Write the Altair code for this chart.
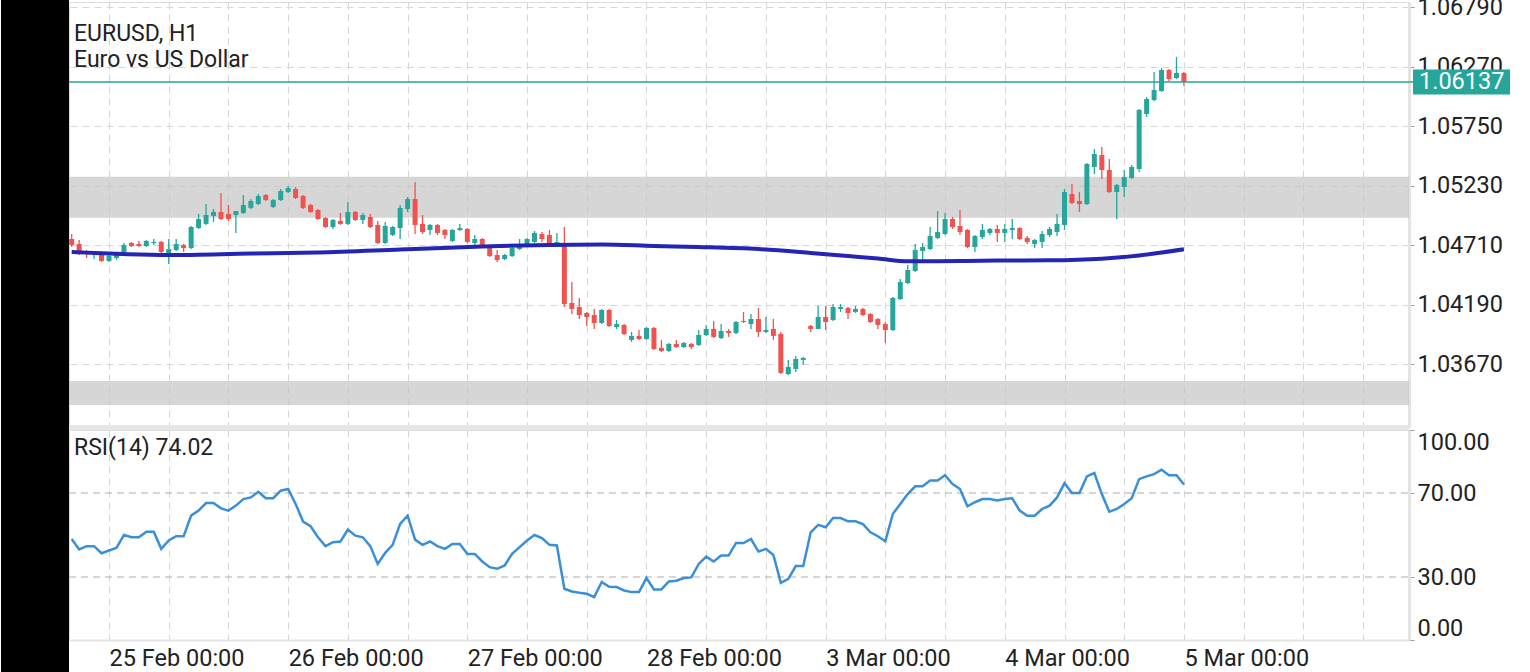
import altair as alt
import pandas as pd

# ---------------- data ----------------
opens = [1.04764, 1.04720, 1.04650, 1.04624, 1.04624, 1.04572, 1.04598, 1.04650, 1.04729, 1.04720,
         1.04703, 1.04729, 1.04738, 1.04633, 1.04668, 1.04712, 1.04685, 1.04860, 1.04896, 1.04966,
         1.05001, 1.04983, 1.04974, 1.04992, 1.05036, 1.05070, 1.05149, 1.05044, 1.05105, 1.05175,
         1.05201, 1.05140, 1.05062, 1.05018, 1.04948, 1.04869, 1.04922, 1.04896, 1.05001, 1.04931,
         1.04957, 1.04887, 1.04729, 1.04799, 1.04860, 1.05027, 1.05114, 1.04896, 1.04843, 1.04887,
         1.04843, 1.04747, 1.04843, 1.04852, 1.04729, 1.04764, 1.04685, 1.04624, 1.04589, 1.04615,
         1.04676, 1.04712, 1.04738, 1.04808, 1.04799, 1.04712, 1.04720, 1.04204, 1.04169, 1.04117,
         1.04099, 1.04029, 1.04143, 1.03994, 1.04012, 1.03881, 1.03916, 1.03889, 1.03986, 1.03811,
         1.03784, 1.03846, 1.03819, 1.03846, 1.03837, 1.03924, 1.03977, 1.03898, 1.03959, 1.03942,
         1.04047, 1.04020, 1.04064, 1.03951, 1.03977, 1.03933, 1.03583, 1.03627, 1.03706, 1.04003,
         1.03977, 1.04082, 1.04055, 1.04152, 1.04160, 1.04126, 1.04152, 1.04108, 1.04064, 1.04020,
         1.03968, 1.04239, 1.04379, 1.04484, 1.04659, 1.04676, 1.04773, 1.04808, 1.04939, 1.04878,
         1.04843, 1.04694, 1.04782, 1.04817, 1.04852, 1.04817, 1.04843, 1.04860, 1.04773, 1.04720,
         1.04738, 1.04799, 1.04825, 1.04887, 1.05158, 1.05097, 1.05070, 1.05394, 1.05499, 1.05368,
         1.05175, 1.05219, 1.05298, 1.05377, 1.05858, 1.05980, 1.06059, 1.06243, 1.06173, 1.06217]
highs = [1.04808, 1.04755, 1.04668, 1.04659, 1.04633, 1.04624, 1.04650, 1.04729, 1.04738, 1.04747,
         1.04755, 1.04764, 1.04747, 1.04764, 1.04764, 1.04720, 1.04878, 1.04983, 1.05070, 1.05027,
         1.05167, 1.05062, 1.05009, 1.05149, 1.05114, 1.05158, 1.05158, 1.05114, 1.05201, 1.05228,
         1.05219, 1.05149, 1.05070, 1.05027, 1.04957, 1.04939, 1.04992, 1.05088, 1.05009, 1.04992,
         1.04983, 1.04922, 1.04913, 1.04878, 1.05062, 1.05132, 1.05263, 1.04974, 1.04896, 1.04896,
         1.04852, 1.04852, 1.04896, 1.04860, 1.04799, 1.04773, 1.04694, 1.04668, 1.04633, 1.04694,
         1.04764, 1.04773, 1.04834, 1.04825, 1.04843, 1.04817, 1.04869, 1.04388, 1.04248, 1.04126,
         1.04152, 1.04152, 1.04152, 1.04055, 1.04020, 1.03951, 1.03968, 1.03994, 1.03994, 1.03881,
         1.03854, 1.03881, 1.03863, 1.03854, 1.03968, 1.04012, 1.04047, 1.04020, 1.03977, 1.04047,
         1.04126, 1.04108, 1.04160, 1.04082, 1.04064, 1.03951, 1.03706, 1.03741, 1.03732, 1.04012,
         1.04178, 1.04178, 1.04195, 1.04195, 1.04169, 1.04178, 1.04160, 1.04117, 1.04073, 1.04038,
         1.04257, 1.04414, 1.04537, 1.04720, 1.04729, 1.04869, 1.05009, 1.04992, 1.04957, 1.05018,
         1.04852, 1.04799, 1.04896, 1.04860, 1.04887, 1.04896, 1.04939, 1.04869, 1.04790, 1.04764,
         1.04834, 1.04869, 1.04983, 1.05201, 1.05245, 1.05175, 1.05429, 1.05552, 1.05569, 1.05464,
         1.05245, 1.05368, 1.05412, 1.05902, 1.06007, 1.06226, 1.06261, 1.06252, 1.06357, 1.06226]
lows = [1.04694, 1.04624, 1.04598, 1.04589, 1.04563, 1.04563, 1.04580, 1.04633, 1.04694, 1.04694,
        1.04694, 1.04712, 1.04642, 1.04545, 1.04659, 1.04650, 1.04676, 1.04852, 1.04887, 1.04913,
        1.04931, 1.04922, 1.04817, 1.04983, 1.05027, 1.05062, 1.05097, 1.05036, 1.05097, 1.05167,
        1.05114, 1.05027, 1.04992, 1.04931, 1.04860, 1.04852, 1.04887, 1.04887, 1.04922, 1.04896,
        1.04860, 1.04720, 1.04720, 1.04790, 1.04764, 1.05001, 1.04808, 1.04808, 1.04799, 1.04799,
        1.04764, 1.04738, 1.04834, 1.04729, 1.04712, 1.04685, 1.04607, 1.04563, 1.04580, 1.04607,
        1.04668, 1.04703, 1.04729, 1.04738, 1.04712, 1.04703, 1.04169, 1.04108, 1.04064, 1.04003,
        1.03977, 1.04020, 1.03994, 1.03977, 1.03924, 1.03863, 1.03881, 1.03881, 1.03793, 1.03775,
        1.03775, 1.03811, 1.03811, 1.03801, 1.03828, 1.03916, 1.03898, 1.03889, 1.03907, 1.03933,
        1.04029, 1.03977, 1.03907, 1.03942, 1.03881, 1.03583, 1.03574, 1.03601, 1.03662, 1.03951,
        1.03977, 1.03968, 1.04047, 1.04126, 1.04064, 1.04117, 1.04090, 1.04029, 1.03977, 1.03854,
        1.03959, 1.04230, 1.04370, 1.04475, 1.04580, 1.04668, 1.04764, 1.04799, 1.04852, 1.04799,
        1.04685, 1.04650, 1.04764, 1.04799, 1.04738, 1.04738, 1.04764, 1.04755, 1.04720, 1.04685,
        1.04685, 1.04782, 1.04790, 1.04843, 1.05070, 1.05001, 1.05062, 1.05333, 1.05289, 1.05167,
        1.04939, 1.05132, 1.05289, 1.05351, 1.05832, 1.05972, 1.06051, 1.06147, 1.06164, 1.06103]
closes = [1.04712, 1.04650, 1.04633, 1.04642, 1.04572, 1.04615, 1.04633, 1.04712, 1.04703, 1.04703,
          1.04747, 1.04738, 1.04650, 1.04676, 1.04720, 1.04685, 1.04869, 1.04939, 1.04974, 1.05001,
          1.04939, 1.04939, 1.05009, 1.05062, 1.05097, 1.05140, 1.05105, 1.05105, 1.05184, 1.05210,
          1.05123, 1.05036, 1.05001, 1.04939, 1.04869, 1.04931, 1.04896, 1.05001, 1.04931, 1.04974,
          1.04869, 1.04729, 1.04878, 1.04869, 1.05036, 1.05114, 1.04887, 1.04825, 1.04887, 1.04817,
          1.04799, 1.04843, 1.04860, 1.04738, 1.04764, 1.04694, 1.04615, 1.04580, 1.04624, 1.04685,
          1.04712, 1.04764, 1.04817, 1.04764, 1.04720, 1.04738, 1.04195, 1.04152, 1.04099, 1.04082,
          1.04029, 1.04143, 1.04003, 1.04020, 1.03933, 1.03916, 1.03889, 1.03986, 1.03801, 1.03784,
          1.03846, 1.03819, 1.03854, 1.03819, 1.03924, 1.03977, 1.03907, 1.03959, 1.03942, 1.04038,
          1.04038, 1.04064, 1.03951, 1.03968, 1.03916, 1.03592, 1.03644, 1.03714, 1.03723, 1.03977,
          1.04082, 1.04038, 1.04169, 1.04169, 1.04117, 1.04152, 1.04099, 1.04038, 1.04012, 1.03968,
          1.04248, 1.04388, 1.04493, 1.04668, 1.04694, 1.04790, 1.04825, 1.04939, 1.04869, 1.04825,
          1.04694, 1.04790, 1.04843, 1.04852, 1.04817, 1.04852, 1.04860, 1.04764, 1.04738, 1.04755,
          1.04808, 1.04852, 1.04896, 1.05175, 1.05079, 1.05070, 1.05420, 1.05508, 1.05368, 1.05175,
          1.05237, 1.05306, 1.05394, 1.05893, 1.05989, 1.06068, 1.06243, 1.06164, 1.06217, 1.06137]
rsi = [48.1, 43.1, 44.7, 44.7, 41.3, 42.6, 43.9, 50.0, 48.9, 48.9,
       51.6, 51.6, 43.4, 47.4, 49.4, 49.4, 59.2, 61.6, 65.2, 65.2,
       62.7, 61.6, 64.0, 67.1, 67.9, 70.6, 67.5, 67.5, 71.1, 71.9,
       64.8, 56.4, 54.2, 48.9, 44.7, 46.6, 46.9, 52.6, 49.7, 48.9,
       44.7, 36.2, 41.5, 45.3, 55.3, 59.2, 47.8, 45.3, 46.9, 44.7,
       43.4, 45.7, 45.7, 41.0, 41.0, 37.4, 34.7, 33.9, 35.5, 41.0,
       44.2, 47.4, 50.0, 48.5, 45.3, 45.0, 24.4, 23.1, 22.5, 22.0,
       20.4, 27.6, 25.3, 25.2, 23.6, 22.8, 22.8, 29.5, 24.1, 24.1,
       27.9, 28.2, 29.5, 29.8, 36.2, 39.7, 37.4, 40.2, 40.2, 46.2,
       46.2, 48.1, 42.1, 43.4, 40.5, 27.2, 29.1, 35.2, 35.2, 51.3,
       54.8, 53.7, 58.1, 58.1, 56.5, 56.5, 55.2, 51.3, 49.4, 47.0,
       60.0, 64.8, 69.5, 73.2, 73.2, 75.9, 75.9, 78.5, 74.3, 71.9,
       63.7, 65.6, 67.1, 67.1, 66.4, 67.1, 67.5, 61.6, 59.2, 59.2,
       62.4, 64.0, 67.9, 74.7, 70.0, 70.0, 77.9, 79.5, 69.5, 61.1,
       62.4, 64.8, 67.5, 76.6, 77.9, 79.0, 81.1, 78.5, 78.5, 74.0]

ma_idx = [0, 13, 24, 33, 44, 55, 64, 71, 78, 84, 92, 99, 104, 108, 112, 119, 124, 131, 138, 143, 149]
ma_val = [1.04650, 1.04624, 1.04637, 1.04646, 1.04672, 1.04699, 1.04712, 1.04716, 1.04703, 1.04694,
          1.04676, 1.04642, 1.04615, 1.04594, 1.04569, 1.04572, 1.04576, 1.04578, 1.04592, 1.04620, 1.04674]

price_ticks = [1.0367, 1.0419, 1.0471, 1.0523, 1.0575, 1.0627, 1.0679]
rsi_ticks = [0, 30, 70, 100]
rsi_levels = [30, 70]
grid_idx = [5, 13, 21, 29, 37, 45, 53, 61, 69, 77, 85, 93, 101, 109, 117, 125, 133, 141, 149, 157, 165, 173]
day_idx = [5, 29, 53, 77, 101, 125, 149]
day_labels = ["25 Feb 00:00", "26 Feb 00:00", "27 Feb 00:00", "28 Feb 00:00",
              "3 Mar 00:00", "4 Mar 00:00", "5 Mar 00:00"]
zone_top = [1.05309, 1.03521]
zone_bottom = [1.04950, 1.03312]
last_price = 1.06137
title_lines = ["EURUSD, H1", "Euro vs US Dollar"]
rsi_title = "RSI(14) 74.02"

# ---------------- tables ----------------
N = len(opens)
df = pd.DataFrame({"i": list(range(N)), "open": opens, "high": highs, "low": lows,
                   "close": closes, "rsi": rsi})
df["dir"] = ["up" if c >= o else "down" for o, c in zip(opens, closes)]
ma_df = pd.DataFrame({"i": ma_idx, "ma": ma_val})
zones_df = pd.DataFrame({"top": zone_top, "bottom": zone_bottom})
last_df = pd.DataFrame({"price": [last_price], "label": [f"{last_price:.5f}"]})
lvl_df = pd.DataFrame({"lvl": rsi_levels})
one = pd.DataFrame({"a": [0]})

UP, DOWN = "#26a69a", "#ef5350"
W, H_TOP, H_RSI = 1340, 425, 210
FONT = "Roboto"
TXT = "#222222"
LFS = 23.5

xs = alt.Scale(domain=[-0.36, 179.15], nice=False, zero=False)
ys = alt.Scale(domain=[1.03119, 1.06838], nice=False, zero=False)
rs = alt.Scale(domain=[0, 100], nice=False, zero=False)
color = alt.Color("dir:N", scale=alt.Scale(domain=["up", "down"], range=[UP, DOWN]), legend=None)

label_expr = "".join(f"datum.value === {v} ? '{t}' : " for v, t in zip(day_idx, day_labels)) + "''"

x_top_axis = alt.Axis(values=grid_idx, grid=True, gridColor="#d6d6d6", gridDash=[7, 5], gridWidth=1,
                      labels=False, ticks=False, domain=True, domainColor="#e6e6e6", domainWidth=5,
                      title=None, orient="bottom")
y_top_axis = alt.Axis(orient="right", values=price_ticks, format=".5f", grid=True, gridColor="#d6d6d6",
                      gridDash=[7, 5], domainColor="#e3e3e3", domainWidth=3, ticks=True, tickSize=5,
                      tickColor="#9e9e9e", labelPadding=3, labelFont=FONT, labelFontSize=LFS,
                      labelColor=TXT, labelFlush=False, title=None)
x_bot_axis = alt.Axis(values=grid_idx, grid=True, gridColor="#d6d6d6", gridDash=[7, 5], gridWidth=1,
                      labelExpr=label_expr, labelAlign="left", labelBaseline="alphabetic",
                      labelPadding=25, ticks=False, tickSize=0, domain=True, domainColor="#e3e3e3",
                      domainWidth=2, labelFont=FONT, labelFontSize=LFS, labelColor=TXT,
                      labelOverlap=False, labelFlush=False, labelBound=False, title=None, orient="bottom")
y_bot_axis = alt.Axis(orient="right", values=rsi_ticks, format=".2f", grid=False, domainColor="#e3e3e3",
                      domainWidth=3, ticks=True, tickSize=5, tickColor="#9e9e9e", labelPadding=3,
                      labelFont=FONT, labelFontSize=LFS, labelColor=TXT, labelFlush=True,
                      labelFlushOffset=0, title=None)

X = lambda: alt.X("i:Q", scale=xs, axis=x_top_axis)

zones = alt.Chart(zones_df).mark_rect(color="#c4c4c4", opacity=0.7).encode(
    x=alt.value(0), x2=alt.value(W),
    y=alt.Y("top:Q", scale=ys, axis=y_top_axis), y2="bottom:Q")
wicks = alt.Chart(df).mark_rule(strokeWidth=1.3).encode(
    x=X(), y=alt.Y("low:Q", scale=ys, axis=y_top_axis), y2="high:Q", color=color)
bodies = alt.Chart(df).mark_rule(strokeWidth=5, strokeCap="butt").encode(
    x=X(), y=alt.Y("open:Q", scale=ys, axis=y_top_axis), y2="close:Q", color=color)
ma_line = alt.Chart(ma_df).mark_line(color="#2424b5", strokeWidth=4, interpolate="monotone").encode(
    x=X(), y=alt.Y("ma:Q", scale=ys, axis=y_top_axis))
price_line = alt.Chart(last_df).mark_rule(color=UP, strokeWidth=1.5).encode(
    x=alt.value(0), x2=alt.value(1344), y=alt.Y("price:Q", scale=ys, axis=y_top_axis))
price_box = alt.Chart(last_df).mark_rule(color=UP, strokeWidth=25, strokeCap="butt").encode(
    x=alt.value(1344), x2=alt.value(1441), y=alt.Y("price:Q", scale=ys, axis=y_top_axis))
price_txt = alt.Chart(last_df).mark_text(align="left", baseline="middle", font=FONT, fontSize=LFS,
                                        color="white").encode(
    x=alt.value(1350), y=alt.Y("price:Q", scale=ys, axis=y_top_axis), text="label:N")
t1 = alt.Chart(one).mark_text(align="left", baseline="alphabetic", font=FONT, fontSize=23,
                              color=TXT, text=title_lines[0]).encode(x=alt.value(5), y=alt.value(39))
t2 = alt.Chart(one).mark_text(align="left", baseline="alphabetic", font=FONT, fontSize=23,
                              color=TXT, text=title_lines[1]).encode(x=alt.value(5), y=alt.value(65))
black = alt.Chart(one).mark_rect(color="black").encode(
    x=alt.value(-68), x2=alt.value(0), y=alt.value(-6), y2=alt.value(672))

top = alt.layer(zones, wicks, bodies, ma_line, price_line, price_box, price_txt, t1, t2, black).properties(
    width=W, height=H_TOP)

XB = lambda: alt.X("i:Q", scale=xs, axis=x_bot_axis)
levels = alt.Chart(lvl_df).mark_rule(color="#adadad", strokeWidth=1, strokeDash=[7, 5]).encode(
    x=alt.value(0), x2=alt.value(W), y=alt.Y("lvl:Q", scale=rs, axis=y_bot_axis))
rsi_line = alt.Chart(df).mark_line(color="#3a8fd8", strokeWidth=2.5).encode(
    x=XB(), y=alt.Y("rsi:Q", scale=rs, axis=y_bot_axis))
rsi_txt = alt.Chart(one).mark_text(align="left", baseline="alphabetic", font=FONT, fontSize=23,
                                   color=TXT, text=rsi_title).encode(x=alt.value(5), y=alt.value(25))
bottom = alt.layer(levels, rsi_line, rsi_txt).properties(width=W, height=H_RSI)

chart = alt.vconcat(top, bottom, spacing=3, bounds="flush").properties(
    padding={"left": 0, "right": 0, "top": -6, "bottom": 0}
).configure_view(stroke=None).configure(background="white", font=FONT)

chart.save("out.html", embed_options={"renderer": "svg", "actions": False})
